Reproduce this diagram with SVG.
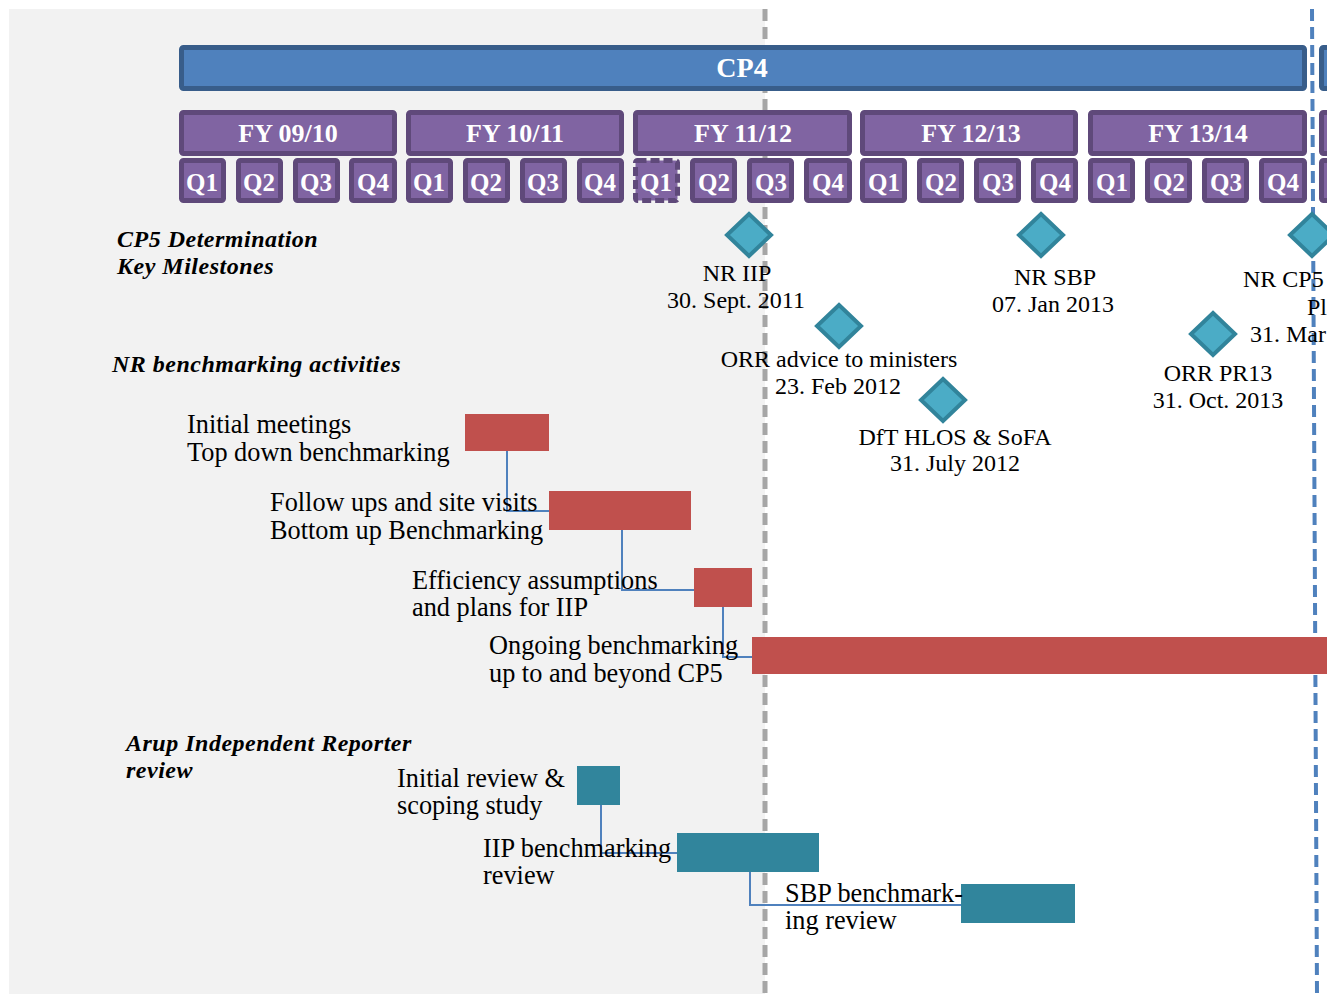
<svg xmlns="http://www.w3.org/2000/svg" width="1327" height="994" viewBox="0 0 1327 994">
<style>
.cp{fill:#4f81bd;stroke:#385d8a;stroke-width:5}
.fy{fill:#8064a2;stroke:#5f497a;stroke-width:5}
.hd{font-family:"Liberation Serif",serif;font-weight:bold;fill:#fff;text-anchor:middle}
.t{font-family:"Liberation Serif",serif;font-size:24px;fill:#000}
.a{font-family:"Liberation Serif",serif;font-size:26.3px;fill:#000}
.h{font-family:"Liberation Serif",serif;font-size:24px;font-weight:bold;font-style:italic;fill:#000;letter-spacing:0.5px}
.m{text-anchor:middle}
.dia{fill:#4bacc6;stroke:#31849b;stroke-width:4}
.red{fill:#c0504d}
.teal{fill:#31859c}
.con{fill:none;stroke:#4f81bd;stroke-width:2}
</style>
<rect x="0" y="0" width="1327" height="994" fill="#fff"/>
<rect x="9" y="9" width="756" height="985" fill="#f2f2f2"/>
<g id="guides">
<line x1="765" y1="9" x2="765" y2="994" stroke="#a6a6a6" stroke-width="5" stroke-dasharray="12,6"/>
<line x1="1312" y1="9" x2="1317" y2="994" stroke="#4f81bd" stroke-width="4" stroke-dasharray="12,6"/>
</g>
<g id="cp4"><rect class="cp" x="181.5" y="47.5" width="1123" height="41" rx="2"/><text class="hd" x="742" y="77" font-size="28">CP4</text></g>
<g id="cp5"><rect class="cp" x="1321.5" y="47.5" width="300" height="41" rx="2"/></g>
<g id="fy0910"><rect class="fy" x="181.5" y="112.5" width="213" height="41" rx="2"/><text class="hd" x="288" y="142" font-size="26">FY 09/10</text></g>
<g id="fy1011"><rect class="fy" x="408.5" y="112.5" width="213" height="41" rx="2"/><text class="hd" x="515" y="142" font-size="26">FY 10/11</text></g>
<g id="fy1112"><rect class="fy" x="635.5" y="112.5" width="214" height="41" rx="2"/><text class="hd" x="743" y="142" font-size="26">FY 11/12</text></g>
<g id="fy1213"><rect class="fy" x="862.5" y="112.5" width="213" height="41" rx="2"/><text class="hd" x="971" y="142" font-size="26">FY 12/13</text></g>
<g id="fy1314"><rect class="fy" x="1090.5" y="112.5" width="214" height="41" rx="2"/><text class="hd" x="1198" y="142" font-size="26">FY 13/14</text></g>
<g id="fy1415"><rect class="fy" x="1321.5" y="112.5" width="214" height="41" rx="2"/></g>
<g id="quarters">
<g id="q0910"><rect class="fy" x="181.5" y="160.5" width="42" height="40" rx="2"/><text class="hd" x="202" y="191" font-size="25">Q1</text>
<rect class="fy" x="238.5" y="160.5" width="42" height="40" rx="2"/><text class="hd" x="259" y="191" font-size="25">Q2</text>
<rect class="fy" x="295.5" y="160.5" width="42" height="40" rx="2"/><text class="hd" x="316" y="191" font-size="25">Q3</text>
<rect class="fy" x="351.5" y="160.5" width="43" height="40" rx="2"/><text class="hd" x="373" y="191" font-size="25">Q4</text></g>
<g id="q1011"><rect class="fy" x="408.5" y="160.5" width="42" height="40" rx="2"/><text class="hd" x="429" y="191" font-size="25">Q1</text>
<rect class="fy" x="465.5" y="160.5" width="42" height="40" rx="2"/><text class="hd" x="486" y="191" font-size="25">Q2</text>
<rect class="fy" x="522.5" y="160.5" width="42" height="40" rx="2"/><text class="hd" x="543" y="191" font-size="25">Q3</text>
<rect class="fy" x="579.5" y="160.5" width="42" height="40" rx="2"/><text class="hd" x="600" y="191" font-size="25">Q4</text></g>
<g id="q1112"><rect class="fy" x="635.5" y="160.5" width="42" height="40" rx="2" stroke-dasharray="9,4"/><text class="hd" x="656" y="191" font-size="25">Q1</text>
<rect class="fy" x="692.5" y="160.5" width="42" height="40" rx="2"/><text class="hd" x="714" y="191" font-size="25">Q2</text>
<rect class="fy" x="749.5" y="160.5" width="42" height="40" rx="2"/><text class="hd" x="771" y="191" font-size="25">Q3</text>
<rect class="fy" x="806.5" y="160.5" width="43" height="40" rx="2"/><text class="hd" x="828" y="191" font-size="25">Q4</text></g>
<g id="q1213"><rect class="fy" x="862.5" y="160.5" width="42" height="40" rx="2"/><text class="hd" x="884" y="191" font-size="25">Q1</text>
<rect class="fy" x="919.5" y="160.5" width="42" height="40" rx="2"/><text class="hd" x="941" y="191" font-size="25">Q2</text>
<rect class="fy" x="976.5" y="160.5" width="42" height="40" rx="2"/><text class="hd" x="998" y="191" font-size="25">Q3</text>
<rect class="fy" x="1033.5" y="160.5" width="42" height="40" rx="2"/><text class="hd" x="1055" y="191" font-size="25">Q4</text></g>
<g id="q1314"><rect class="fy" x="1090.5" y="160.5" width="42" height="40" rx="2"/><text class="hd" x="1112" y="191" font-size="25">Q1</text>
<rect class="fy" x="1147.5" y="160.5" width="42" height="40" rx="2"/><text class="hd" x="1169" y="191" font-size="25">Q2</text>
<rect class="fy" x="1204.5" y="160.5" width="42" height="40" rx="2"/><text class="hd" x="1226" y="191" font-size="25">Q3</text>
<rect class="fy" x="1261.5" y="160.5" width="43" height="40" rx="2"/><text class="hd" x="1283" y="191" font-size="25">Q4</text></g>
<rect class="fy" x="1321.5" y="160.5" width="42" height="40" rx="2"/>
</g>
<g id="headers">
<text class="h" x="117" y="247">CP5 Determination</text>
<text class="h" x="117" y="274">Key Milestones</text>
<text class="h" x="112" y="372">NR benchmarking activities</text>
<text class="h" x="126" y="751">Arup Independent Reporter</text>
<text class="h" x="126" y="778">review</text>
</g>
<g id="connectors">
<polyline class="con" points="507,451 507,511 549,511"/>
<polyline class="con" points="622,530 622,590 694,590"/>
<polyline class="con" points="723,607 723,657 752,657"/>
<polyline class="con" points="601,805 601,853 677,853"/>
<polyline class="con" points="750,872 750,905 961,905"/>
</g>
<g id="ms-nriip"><polygon class="dia" points="749,214 771,235 749,256 727,235"/><text class="t m" x="737" y="281">NR IIP</text><text class="t m" x="736" y="308">30. Sept. 2011</text></g>
<g id="ms-orr"><polygon class="dia" points="839,305 861,326 839,347 817,326"/><text class="t m" x="839" y="367">ORR advice to ministers</text><text class="t m" x="838" y="394">23. Feb 2012</text></g>
<g id="ms-dft"><polygon class="dia" points="943,379 965,400 943,421 921,400"/><text class="t m" x="955" y="445">DfT HLOS &amp; SoFA</text><text class="t m" x="955" y="471">31. July 2012</text></g>
<g id="ms-nrsbp"><polygon class="dia" points="1041,214 1063,235 1041,256 1019,235"/><text class="t m" x="1055" y="285">NR SBP</text><text class="t m" x="1053" y="312">07. Jan 2013</text></g>
<g id="ms-pr13"><polygon class="dia" points="1213,313 1235,334 1213,355 1191,334"/><text class="t m" x="1218" y="381">ORR PR13</text><text class="t m" x="1218" y="408">31. Oct. 2013</text></g>
<g id="ms-cp5"><polygon class="dia" points="1312,214 1334,235 1312,256 1290,235"/><text class="t" x="1243" y="287">NR CP5</text><text class="t" x="1307" y="315">Pl</text><text class="t" x="1250" y="342">31. Mar</text></g>
<g id="act-initial"><rect class="red" x="465" y="414" width="84" height="37"/><text class="a" x="187" y="433">Initial meetings</text><text class="a" x="187" y="461">Top down benchmarking</text></g>
<g id="act-follow"><rect class="red" x="549" y="491" width="142" height="39"/><text class="a" x="270" y="511">Follow ups and site visits</text><text class="a" x="270" y="539">Bottom up Benchmarking</text></g>
<g id="act-eff"><rect class="red" x="694" y="568" width="58" height="39"/><text class="a" x="412" y="589">Efficiency assumptions</text><text class="a" x="412" y="616">and plans for IIP</text></g>
<g id="act-ongoing"><rect class="red" x="752" y="637" width="580" height="37"/><text class="a" x="489" y="654">Ongoing benchmarking</text><text class="a" x="489" y="682">up to and beyond CP5</text></g>
<g id="arup-initial"><rect class="teal" x="577" y="766" width="43" height="39"/><text class="a" x="397" y="787">Initial review &amp;</text><text class="a" x="397" y="814">scoping study</text></g>
<g id="arup-iip"><rect class="teal" x="677" y="833" width="142" height="39"/><text class="a" x="483" y="857">IIP benchmarking</text><text class="a" x="483" y="884">review</text></g>
<g id="arup-sbp"><rect class="teal" x="961" y="884" width="114" height="39"/><text class="a" x="785" y="902">SBP benchmark-</text><text class="a" x="785" y="929">ing review</text></g>
</svg>
